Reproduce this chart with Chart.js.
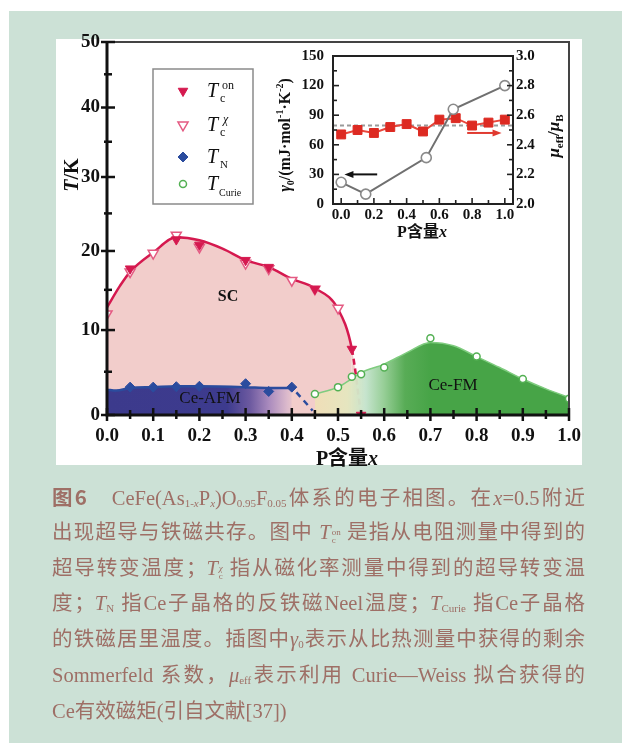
<!DOCTYPE html>
<html>
<head>
<meta charset="utf-8">
<script src="https://cdn.jsdelivr.net/npm/chart.js@4.4.1/dist/chart.umd.min.js"></script>
<style>
  html, body { margin: 0; padding: 0; background: #fff; }
  #page { position: relative; width: 622px; height: 743px; overflow: hidden; background: #fff; }
  #mint { position: absolute; left: 9px; top: 11px; right: 0; bottom: 0; background: #cce1d6; }
  #panel { position: absolute; left: 56px; top: 39px; width: 526px; height: 426px; background: #fff; }
  #main { position: absolute; left: 0; top: 0; }
  #inset { position: absolute; left: 270px; top: 40px; }
  #caption {
    position: absolute; left: 52px; top: 479px; width: 533px;
    color: #9e6f66; font-family: "Liberation Serif", "Noto Sans CJK SC", serif; font-size: 20.5px;
  }
  .ln { height: 35.8px; line-height: 35.8px; white-space: nowrap; text-align: justify; text-align-last: justify; }
  .ln.last { text-align-last: left; }
  .fig { font-family: "Noto Sans CJK SC", sans-serif; font-weight: bold; }
  .ss { display: inline-block; vertical-align: -4px; line-height: 8px; font-size: 9px; margin-left: 1px; }
  .ss span { display: block; }
  sub { font-size: 11px; vertical-align: -2px; line-height: 0; }
</style>
</head>
<body>
<div id="page">
  <div id="mint"></div>
  <div id="panel"></div>
  <canvas id="main" width="622" height="480"></canvas>
  <canvas id="inset" width="300" height="210"></canvas>
  <div id="caption">
    <div class="ln"><span class="fig">图6</span>　CeFe(As<sub>1-<i>x</i></sub>P<sub><i>x</i></sub>)O<sub>0.95</sub>F<sub>0.05</sub>体系的电子相图。在<i>x</i>=0.5附近</div>
    <div class="ln">出现超导与铁磁共存。图中 <i>T</i><span class="ss"><span>on</span><span>c</span></span> 是指从电阻测量中得到的</div>
    <div class="ln">超导转变温度；<i>T</i><span class="ss"><span><i>χ</i></span><span>c</span></span> 指从磁化率测量中得到的超导转变温</div>
    <div class="ln">度；<i>T</i><sub>N</sub> 指Ce子晶格的反铁磁Neel温度；<i>T</i><sub>Curie</sub> 指Ce子晶格</div>
    <div class="ln">的铁磁居里温度。插图中<i>γ</i><sub>0</sub>表示从比热测量中获得的剩余</div>
    <div class="ln">Sommerfeld 系数，<i>μ</i><sub>eff</sub>表示利用 Curie—Weiss 拟合获得的</div>
    <div class="ln last">Ce有效磁矩(引自文献[37])</div>
  </div>
</div>
<script>
// ---------------- phase diagram data (x = P content, T in K) ----------------
const xTicksMain = [0.0, 0.1, 0.2, 0.3, 0.4, 0.5, 0.6, 0.7, 0.8, 0.9, 1.0];
const tTicksMain = [0, 10, 20, 30, 40, 50];

// T_c^on from resistivity
const tcOnX = [0.05, 0.15, 0.20, 0.30, 0.35, 0.45, 0.53, 0.55];
const tcOnT = [17.7, 21.5, 20.8, 18.8, 17.9, 15.1, 7.7, 0.0];
// T_c^chi from susceptibility
const tcChiX = [0.00, 0.05, 0.10, 0.15, 0.20, 0.30, 0.35, 0.40, 0.45, 0.50];
const tcChiT = [12.0, 17.3, 19.7, 22.1, 20.5, 18.4, 17.7, 16.2, 15.1, 12.7];
// Neel temperature of the Ce sublattice
const tnX = [0.05, 0.10, 0.15, 0.20, 0.30, 0.35, 0.40];
const tnT = [3.2, 3.2, 3.25, 3.3, 3.6, 2.7, 3.2];
// Curie temperature of the Ce sublattice
const tCurieX = [0.45, 0.50, 0.53, 0.55, 0.60, 0.70, 0.80, 0.90, 1.00];
const tCurieT = [2.4, 3.2, 4.4, 4.7, 5.5, 9.0, 6.8, 4.15, 1.85];

// phase boundaries
const scEdgeX = [0.00, 0.028, 0.05, 0.10, 0.15, 0.20, 0.25, 0.30, 0.35, 0.40, 0.45, 0.50, 0.53, 0.55];
const scEdgeT = [12.8, 15.5, 17.3, 19.8, 21.8, 21.4, 20.3, 18.8, 17.9, 16.4, 15.2, 12.6, 7.7, 0.0];
const afmEdgeX = [0.00, 0.02, 0.05, 0.10, 0.15, 0.20, 0.30, 0.35, 0.40];
const afmEdgeT = [2.9, 2.8, 3.1, 3.2, 3.3, 3.3, 3.2, 3.1, 3.1];
const afmTailX = [0.41, 0.445];
const afmTailT = [2.6, 0.5];
const fmEdgeX = [0.45, 0.50, 0.53, 0.55, 0.60, 0.65, 0.70, 0.75, 0.80, 0.85, 0.90, 0.95, 1.00];
const fmEdgeT = [2.4, 3.2, 4.2, 4.9, 5.9, 7.3, 8.5, 8.1, 6.8, 5.5, 4.15, 3.0, 2.0];

// ---------------- inset data ----------------
const insetXTicks = [0.0, 0.2, 0.4, 0.6, 0.8, 1.0];
const gammaTicks = [0, 30, 60, 90, 120, 150];
const muTicks = [2.0, 2.2, 2.4, 2.6, 2.8, 3.0];
const gammaX = [0.00, 0.15, 0.52, 0.685, 1.00];
const gamma0 = [22, 10, 47, 96, 120];
const muX = [0.0, 0.1, 0.2, 0.3, 0.4, 0.5, 0.6, 0.7, 0.8, 0.9, 1.0];
const muEff = [2.47, 2.50, 2.48, 2.52, 2.54, 2.49, 2.57, 2.58, 2.53, 2.55, 2.57];
const muRefX = [-0.05, 1.05];
const muRefY = [2.53, 2.53];
const gammaArrowX = [0.22, 0.02];
const gammaArrowY = [30, 30];
const muArrowX = [0.77, 0.98];
const muArrowY = [2.48, 2.48];

const pts = (xs, ys) => xs.map((x, i) => ({ x, y: ys[i] }));

const SERIF = '"Liberation Serif", "Times New Roman", serif';
const CJK = '"Noto Sans CJK SC", sans-serif';

// Temperature axis with a compressed upper range: position ~ ln(1 + T / C)
const WARP_C = 130;
class WarpScale extends Chart.LinearScale {
  static id = 'warp';
  static defaults = {};
  _w(v) { return Math.log(1 + v / WARP_C); }
  getPixelForValue(value) {
    const a = this._w(this.min), b = this._w(this.max);
    return this.getPixelForDecimal((this._w(value) - a) / (b - a));
  }
  getValueForPixel(pixel) {
    const a = this._w(this.min), b = this._w(this.max);
    const w = a + this.getDecimalForPixel(pixel) * (b - a);
    return WARP_C * (Math.exp(w) - 1);
  }
}
Chart.register(WarpScale);

// draws a run of text pieces (with sub/superscripts) centred or left aligned
function richText(ctx, runs, x, y, rot, align, color) {
  ctx.save();
  ctx.translate(x, y);
  if (rot) ctx.rotate(rot);
  ctx.textAlign = 'left';
  ctx.textBaseline = 'alphabetic';
  let total = 0;
  runs.forEach(r => { ctx.font = r.f; r.w = ctx.measureText(r.t).width; total += r.w; });
  let cx = align === 'left' ? 0 : -total / 2;
  runs.forEach(r => {
    ctx.font = r.f;
    ctx.fillStyle = r.c || color || '#111';
    ctx.fillText(r.t, cx, r.dy || 0);
    cx += r.w;
  });
  ctx.restore();
}

function gradientX(chart, stops) {
  const { ctx, chartArea, scales } = chart;
  if (!chartArea) return 'rgba(0,0,0,0)';
  const x0 = scales.x.getPixelForValue(0), x1 = scales.x.getPixelForValue(1);
  const g = ctx.createLinearGradient(x0, 0, x1, 0);
  stops.forEach(s => g.addColorStop(s[0], s[1]));
  return g;
}

const RED = '#d5194f', PINK_EDGE = '#e45a82', BLUE = '#2b4c9e', GREEN = '#53b053';

// ---------------- axes, frame, labels, legend for the main diagram ----------------
const mainDecor = {
  id: 'mainDecor',
  afterDatasetsDraw(chart) {
    const { ctx, chartArea: a, scales: { x, y } } = chart;
    ctx.save();
    // frame
    ctx.strokeStyle = '#444'; ctx.lineWidth = 2;
    ctx.beginPath(); ctx.moveTo(a.left, a.top); ctx.lineTo(a.right, a.top); ctx.lineTo(a.right, a.bottom); ctx.stroke();
    ctx.strokeStyle = '#111'; ctx.lineWidth = 3;
    ctx.beginPath(); ctx.moveTo(a.left, a.top - 1); ctx.lineTo(a.left, a.bottom); ctx.lineTo(a.right + 1, a.bottom); ctx.stroke();
    // ticks
    ctx.lineWidth = 2.5;
    for (let v = 0; v <= 50; v += 5) {
      const py = y.getPixelForValue(v), major = v % 10 === 0;
      ctx.beginPath(); ctx.moveTo(a.left - (major ? 6 : 3), py); ctx.lineTo(a.left + (major ? 8 : 5), py); ctx.stroke();
    }
    for (let i = 0; i <= 20; i++) {
      const px = x.getPixelForValue(i * 0.05), major = i % 2 === 0;
      ctx.beginPath(); ctx.moveTo(px, a.bottom + (major ? 6 : 4)); ctx.lineTo(px, a.bottom - (major ? 7 : 5)); ctx.stroke();
    }
    // region names
    ctx.fillStyle = '#111'; ctx.textAlign = 'center'; ctx.textBaseline = 'middle';
    ctx.font = 'bold 16px ' + SERIF; ctx.fillText('SC', 228, 297);
    ctx.font = '17px ' + SERIF; ctx.fillText('Ce-AFM', 210, 399);
    ctx.fillText('Ce-FM', 453, 386);
    // axis titles
    richText(ctx, [
      { t: 'T', f: 'italic bold 20px ' + SERIF },
      { t: '/K', f: 'bold 20px ' + SERIF }
    ], 78, 175, -Math.PI / 2, 'center');
    richText(ctx, [
      { t: 'P', f: 'bold 20px ' + SERIF },
      { t: '含量', f: 'bold 20px ' + CJK },
      { t: 'x', f: 'italic bold 20px ' + SERIF }
    ], 347, 465, 0, 'center');
    // legend
    ctx.fillStyle = '#fff'; ctx.strokeStyle = '#8a8a8a'; ctx.lineWidth = 1.5;
    ctx.fillRect(153, 69, 100, 135); ctx.strokeRect(153, 69, 100, 135);
    const ds = chart.data.datasets;
    const entries = [
      { d: ds[4], y: 91 }, { d: ds[5], y: 125 }, { d: ds[6], y: 157 }, { d: ds[7], y: 184 }
    ];
    entries.forEach(e => {
      ctx.fillStyle = e.d.pointBackgroundColor; ctx.strokeStyle = e.d.pointBorderColor;
      ctx.lineWidth = e.d.pointBorderWidth;
      Chart.helpers.drawPoint(ctx, { pointStyle: e.d.pointStyle, rotation: e.d.pointRotation || 0,
        radius: e.d.pointRadius, borderWidth: e.d.pointBorderWidth }, 183, e.y);
    });
    const TF = 'italic 20px ' + SERIF, SF = '12px ' + SERIF;
    richText(ctx, [{ t: 'T', f: TF }], 207, 97, 0, 'left');
    richText(ctx, [{ t: 'on', f: SF }], 222, 89, 0, 'left');
    richText(ctx, [{ t: 'c', f: SF }], 220, 102, 0, 'left');
    richText(ctx, [{ t: 'T', f: TF }], 207, 131, 0, 'left');
    richText(ctx, [{ t: 'χ', f: 'italic 12px ' + SERIF }], 223, 123, 0, 'left');
    richText(ctx, [{ t: 'c', f: SF }], 220, 136, 0, 'left');
    richText(ctx, [{ t: 'T', f: TF }], 207, 163, 0, 'left');
    richText(ctx, [{ t: 'N', f: '11px ' + SERIF }], 220, 168, 0, 'left');
    richText(ctx, [{ t: 'T', f: TF }], 207, 190, 0, 'left');
    richText(ctx, [{ t: 'Curie', f: '10px ' + SERIF }], 219, 196, 0, 'left');
    ctx.restore();
  }
};

const tickFont = { family: SERIF, size: 19, weight: 'bold' };

new Chart(document.getElementById('main'), {
  type: 'line',
  data: {
    datasets: [
      { // 0: superconducting dome
        data: pts(scEdgeX, scEdgeT), order: 30,
        borderColor: RED, borderWidth: 2.5, pointRadius: 0,
        cubicInterpolationMode: 'monotone', fill: 'origin', backgroundColor: '#f2cdcb',
        segment: { borderDash: c => (c.p0DataIndex >= scEdgeX.length - 2 ? [6, 4] : undefined) }
      },
      { // 1: ferromagnetic region
        data: pts(fmEdgeX, fmEdgeT), order: 20,
        borderColor: '#7fcc7f', borderWidth: 1.5, pointRadius: 0,
        cubicInterpolationMode: 'monotone', fill: 'origin',
        backgroundColor: c => gradientX(c.chart, [
          [0.45, 'rgba(238,228,178,0.75)'], [0.52, 'rgba(228,232,190,0.9)'], [0.56, 'rgba(198,228,206,1)'],
          [0.60, 'rgba(150,206,150,1)'], [0.645, 'rgba(88,172,86,1)'], [0.70, '#47a447'], [1.0, '#47a447']
        ])
      },
      { // 2: antiferromagnetic region
        data: pts(afmEdgeX, afmEdgeT), order: 10,
        borderColor: BLUE, borderWidth: 2.5, pointRadius: 0,
        cubicInterpolationMode: 'monotone', fill: 'origin',
        backgroundColor: c => gradientX(c.chart, [
          [0, '#3c3a8c'], [0.26, '#3d3b8e'], [0.31, '#6d5aa0'], [0.35, '#a98abd'], [0.39, '#dcbacc'], [0.41, '#f2cdcb']
        ])
      },
      { // 3: AFM boundary continuation
        data: pts(afmTailX, afmTailT), order: 5,
        borderColor: BLUE, borderWidth: 2.5, borderDash: [6, 5], pointRadius: 0, fill: false
      },
      { // 4: T_c^on
        data: pts(tcOnX, tcOnT), order: 1, showLine: false,
        pointStyle: 'triangle', pointRotation: 180, pointRadius: 5.5,
        pointBackgroundColor: RED, pointBorderColor: RED, pointBorderWidth: 1
      },
      { // 5: T_c^chi
        data: pts(tcChiX, tcChiT), order: 2, showLine: false,
        pointStyle: 'triangle', pointRotation: 180, pointRadius: 5.8,
        pointBackgroundColor: '#ffffff', pointBorderColor: PINK_EDGE, pointBorderWidth: 1.5
      },
      { // 6: T_N
        data: pts(tnX, tnT), order: 1, showLine: false,
        pointStyle: 'rectRot', pointRadius: 5,
        pointBackgroundColor: BLUE, pointBorderColor: BLUE, pointBorderWidth: 1
      },
      { // 7: T_Curie
        data: pts(tCurieX, tCurieT), order: 1, showLine: false,
        pointStyle: 'circle', pointRadius: 3.5,
        pointBackgroundColor: '#ffffff', pointBorderColor: GREEN, pointBorderWidth: 1.5
      }
    ]
  },
  options: {
    responsive: false, animation: false, devicePixelRatio: 1,
    layout: { padding: { left: 40, top: 42, right: 53, bottom: 0 } },
    plugins: { legend: { display: false }, tooltip: { enabled: false } },
    scales: {
      x: {
        type: 'linear', min: 0, max: 1,
        afterBuildTicks: s => { s.ticks = xTicksMain.map(v => ({ value: v })); },
        afterFit: s => { s.height = 65; s.paddingLeft = 0; s.paddingRight = 0; },
        grid: { display: false, drawTicks: false }, border: { display: false },
        ticks: { padding: 10, maxRotation: 0, autoSkip: false, color: '#111', font: tickFont, callback: v => v.toFixed(1) }
      },
      y: {
        type: 'warp', min: 0, max: 50,
        afterBuildTicks: s => { s.ticks = tTicksMain.map(v => ({ value: v })); },
        afterFit: s => { s.width = 67; s.paddingTop = 0; s.paddingBottom = 0; },
        grid: { display: false, drawTicks: false }, border: { display: false },
        ticks: { padding: 7, color: '#111', font: tickFont, callback: v => String(v) }
      }
    }
  },
  plugins: [mainDecor]
});

// ---------------- inset: gamma0 and mu_eff ----------------
const insetDecor = {
  id: 'insetDecor',
  afterDatasetsDraw(chart) {
    const { ctx, chartArea: a, scales: { x, y, y2 } } = chart;
    ctx.save();
    ctx.strokeStyle = '#222'; ctx.lineWidth = 2;
    ctx.strokeRect(a.left, a.top, a.right - a.left, a.bottom - a.top);
    ctx.lineWidth = 1.6;
    for (let i = 0; i <= 10; i++) {
      const px = x.getPixelForValue(i / 10), L = i % 2 === 0 ? 6 : 4;
      ctx.beginPath(); ctx.moveTo(px, a.bottom); ctx.lineTo(px, a.bottom - L); ctx.stroke();
    }
    for (let v = 0; v <= 150; v += 15) {
      const py = y.getPixelForValue(v), L = v % 30 === 0 ? 6 : 4;
      ctx.beginPath(); ctx.moveTo(a.left, py); ctx.lineTo(a.left + L, py); ctx.stroke();
    }
    for (let i = 0; i <= 10; i++) {
      const py = y2.getPixelForValue(2 + i / 10), L = i % 2 === 0 ? 6 : 4;
      ctx.beginPath(); ctx.moveTo(a.right, py); ctx.lineTo(a.right - L, py); ctx.stroke();
    }
    // arrows pointing to the axis each curve belongs to
    const arrow = (x0, y0, x1, y1, col) => {
      ctx.strokeStyle = col; ctx.fillStyle = col; ctx.lineWidth = 2;
      const dir = Math.sign(x1 - x0);
      ctx.beginPath(); ctx.moveTo(x0, y0); ctx.lineTo(x1 - dir * 6, y1); ctx.stroke();
      ctx.beginPath(); ctx.moveTo(x1, y1); ctx.lineTo(x1 - dir * 9, y1 - 3.5); ctx.lineTo(x1 - dir * 9, y1 + 3.5); ctx.closePath(); ctx.fill();
    };
    arrow(x.getPixelForValue(gammaArrowX[0]), y.getPixelForValue(gammaArrowY[0]),
          x.getPixelForValue(gammaArrowX[1]), y.getPixelForValue(gammaArrowY[1]), '#111');
    arrow(x.getPixelForValue(muArrowX[0]), y2.getPixelForValue(muArrowY[0]),
          x.getPixelForValue(muArrowX[1]), y2.getPixelForValue(muArrowY[1]), '#e03a30');
    // titles
    const F = 'bold 16px ' + SERIF, S = 'bold 10px ' + SERIF;
    richText(ctx, [
      { t: 'γ', f: 'italic bold 16px ' + SERIF }, { t: '0', f: S, dy: 4 },
      { t: '/(mJ·mol', f: F }, { t: '-1', f: S, dy: -7 }, { t: '·K', f: F }, { t: '-2', f: S, dy: -7 }, { t: ')', f: F }
    ], 20, 95, -Math.PI / 2, 'center');
    richText(ctx, [
      { t: 'μ', f: 'italic bold 17px ' + SERIF }, { t: 'eff', f: 'bold 11px ' + SERIF, dy: 4 },
      { t: '/', f: 'bold 17px ' + SERIF }, { t: 'μ', f: 'italic bold 17px ' + SERIF }, { t: 'B', f: 'bold 11px ' + SERIF, dy: 4 }
    ], 289, 96, -Math.PI / 2, 'center');
    richText(ctx, [
      { t: 'P', f: 'bold 16px ' + SERIF }, { t: '含量', f: 'bold 16px ' + CJK }, { t: 'x', f: 'italic bold 16px ' + SERIF }
    ], 152, 197, 0, 'center');
    ctx.restore();
  }
};

const insetFont = { family: SERIF, size: 15, weight: 'bold' };

new Chart(document.getElementById('inset'), {
  type: 'line',
  data: {
    datasets: [
      {
        data: pts(muRefX, muRefY), yAxisID: 'y2', order: 3,
        borderColor: '#9a9a9a', borderWidth: 2, borderDash: [4, 3], pointRadius: 0, fill: false
      },
      {
        data: pts(muX, muEff), yAxisID: 'y2', order: 2,
        borderColor: '#e8473c', borderWidth: 2, pointStyle: 'rect', pointRadius: 6.3,
        pointBackgroundColor: '#dd2a22', pointBorderColor: '#dd2a22', pointBorderWidth: 1, fill: false
      },
      {
        data: pts(gammaX, gamma0), yAxisID: 'y', order: 1,
        borderColor: '#707070', borderWidth: 2, pointStyle: 'circle', pointRadius: 5,
        pointBackgroundColor: '#ffffff', pointBorderColor: '#8a8a8a', pointBorderWidth: 1.6, fill: false
      }
    ]
  },
  options: {
    responsive: false, animation: false, devicePixelRatio: 1,
    layout: { padding: { left: 0, top: 16, right: 0, bottom: 0 } },
    plugins: { legend: { display: false }, tooltip: { enabled: false } },
    scales: {
      x: {
        type: 'linear', min: -0.05, max: 1.05,
        afterBuildTicks: s => { s.ticks = insetXTicks.map(v => ({ value: v })); },
        afterFit: s => { s.height = 46; s.paddingLeft = 0; s.paddingRight = 0; },
        grid: { display: false, drawTicks: false }, border: { display: false },
        ticks: { padding: 2, maxRotation: 0, autoSkip: false, color: '#111', font: insetFont, callback: v => v.toFixed(1) }
      },
      y: {
        type: 'linear', position: 'left', min: 0, max: 150,
        afterBuildTicks: s => { s.ticks = gammaTicks.map(v => ({ value: v })); },
        afterFit: s => { s.width = 63; s.paddingTop = 0; s.paddingBottom = 0; },
        grid: { display: false, drawTicks: false }, border: { display: false },
        ticks: { padding: 9, color: '#111', font: insetFont, callback: v => String(v) }
      },
      y2: {
        type: 'linear', position: 'right', min: 2.0, max: 3.0,
        afterBuildTicks: s => { s.ticks = muTicks.map(v => ({ value: v })); },
        afterFit: s => { s.width = 57; s.paddingTop = 0; s.paddingBottom = 0; },
        grid: { display: false, drawTicks: false }, border: { display: false },
        ticks: { padding: 3, color: '#111', font: insetFont, callback: v => v.toFixed(1) }
      }
    }
  },
  plugins: [insetDecor]
});
</script>
</body>
</html>
